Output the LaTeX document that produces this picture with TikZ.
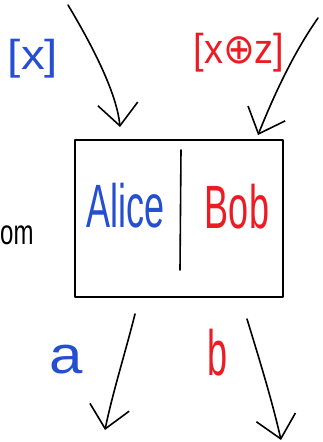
\documentclass[tikz,border=0pt]{standalone}
\usepackage{fontspec}
\setsansfont{Liberation Sans}
\newfontfamily\symfont{DejaVu Sans}
\usetikzlibrary{arrows.meta}
\definecolor{penblue}{RGB}{38,78,208}
\definecolor{penred}{RGB}{236,28,36}

\begin{document}
\begin{tikzpicture}[
						x=1pt, y=-1pt,
						line cap=round,
						line join=round,
						pen/.style={line width=1.6pt},
						arrow/.style={pen, -{Straight Barb[length=22pt, width=40pt, line width=1.6pt]}},
						hand/.style={font=\sffamily\fontsize{36}{36}\selectfont, inner sep=0pt}
						]
						
						\useasboundingbox (0,0) rectangle (322,442);
						
						% Box
						\node[draw, pen, minimum width=208pt, minimum height=157pt, inner sep=0pt] (box) at (179,218.5) {};
						\draw[pen] (181,150) -- (180,270);
						
						% Parties
						\node[hand, text=penblue, yscale=1.7] (alice) at (126,206) {Alice};
						\node[hand, text=penred, yscale=1.7] (bob) at (237,207) {Bob};
						
						% Cut-off text
						\node[font=\sffamily\fontsize{24}{24}\selectfont, anchor=west, inner sep=0pt, yscale=1.45] (word) at (0,235) {om};
						
						% Inputs
						\node[hand, text=penblue, font=\sffamily\fontsize{38}{38}\selectfont, xscale=1.25, yscale=1.1] (inx) at (33,59) {[x]};
						\node[hand, text=penred, font=\sffamily\fontsize{38}{38}\selectfont, yscale=1.1] (inxz) at (239,53) {[x{\symfont ⊕}z]};
						
						\coordinate (xstart) at (68,5);
						\coordinate (xend) at (120,127);
						\coordinate (zstart) at (318,18);
						\coordinate (zend) at (258,135);
						\draw[arrow] (xstart) .. controls (95,50) and (117,95) .. (xend);
						\draw[arrow] (zstart) .. controls (292,55) and (272,100) .. (zend);
						
						% Outputs
						\coordinate (astart) at (135,314);
						\coordinate (aend) at (105,430);
						\coordinate (bstart) at (247,319);
						\coordinate (bend) at (281,440);
						\draw[arrow] (astart) .. controls (126,350) and (112,395) .. (aend);
						\draw[arrow] (bstart) .. controls (258,355) and (272,400) .. (bend);
						
						\node[hand, text=penblue, font=\sffamily\fontsize{48}{48}\selectfont, xscale=1.25, yscale=1.1] (outa) at (66,360) {a};
						\node[hand, text=penred, font=\sffamily\fontsize{40}{40}\selectfont, yscale=1.6, xscale=0.9] (outb) at (218,353) {b};
						
					\end{tikzpicture}
\end{document}
